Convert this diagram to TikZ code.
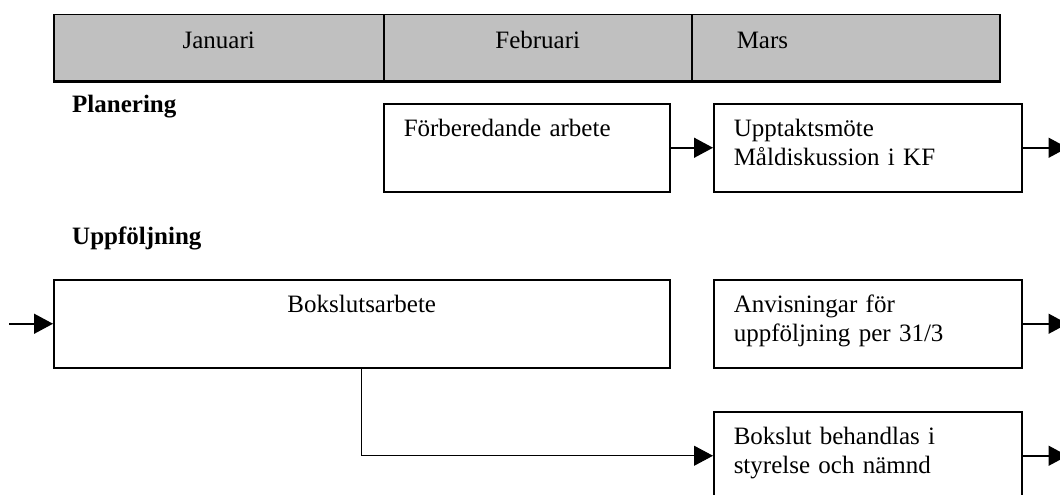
\documentclass[tikz,border=0pt]{standalone}
\usepackage{fontspec}
\setmainfont{Liberation Serif}
\usetikzlibrary{arrows.meta,positioning}
\definecolor{MonthGray}{HTML}{C0C0C0}
\newcommand{\plantext}{\fontsize{25}{29}\selectfont}
\tikzset{
    % Month header cell
    monthcell/.style={
        draw=black,
        fill=MonthGray,
        line width=1.5pt,
        anchor=north west,
        inner xsep=0pt,
        inner ysep=17pt,
        text height=17pt,
        text depth=15pt,
        font=\plantext
    },
    % Activity box
    actbox/.style={
        draw=black,
        fill=white,
        line width=1.5pt,
        anchor=north west,
        align=left,
        inner xsep=20pt,
        inner ysep=16pt,
        text height=17pt,
        text depth=39pt,
        font=\plantext
    },
    % Section heading
    sectionlabel/.style={
        anchor=west,
        inner sep=0pt,
        font=\plantext\bfseries
    },
    % Arrow style
    myarrow/.style={
        -{Triangle[length=19pt,width=20pt]},
        line width=1.5pt,
        draw=black
    }
}
\begin{document}
\begin{tikzpicture}[x=1pt,y=-1pt]
    \clip (0,0) rectangle (1060,495);

    % month header
    \node[monthcell, text width=330pt, align=center] (jan) at (53,14) {Januari};
    \node[monthcell, text width=308pt, align=center] (feb) at (383,14) {Februari};
    \node[monthcell, inner xsep=45pt, text width=218pt, align=left] (mar) at (691,14) {Mars};
    \draw[line width=2.5pt] (jan.south west) -- (mar.south east);

    % Planering
    \node[sectionlabel] (plan) at (72,107) {Planering};
    \node[actbox, text width=246pt] (forb) at (383,103) {Förberedande arbete};
    \node[actbox, text width=268pt] (uppt) at (713,103) {Upptaktsmöte\\Måldiskussion i KF};
    \coordinate (upptout) at ([xshift=45pt]uppt.east);

    \draw[myarrow] (forb) -- (uppt);
    \draw[myarrow] (uppt) -- (upptout);

    % Uppföljning
    \node[sectionlabel] (uppf) at (72,238) {Uppföljning};
    \node[actbox, text width=576pt, align=center] (bok) at (53,279) {Bokslutsarbete};
    \node[actbox, text width=268pt] (anv) at (713,279) {Anvisningar för\\uppföljning per 31/3};
    \node[actbox, text width=268pt] (beh) at (713,411) {Bokslut behandlas i\\styrelse och nämnd};
    \coordinate (bokin) at ([xshift=-44pt]bok.west);
    \coordinate (anvout) at ([xshift=45pt]anv.east);
    \coordinate (behout) at ([xshift=45pt]beh.east);

    \draw[myarrow] (bokin) -- (bok);
    \draw[myarrow] (anv) -- (anvout);
    \draw[myarrow, line width=1pt] (bok.south) |- (beh.west);
    \draw[myarrow] (beh) -- (behout);
\end{tikzpicture}
\end{document}
